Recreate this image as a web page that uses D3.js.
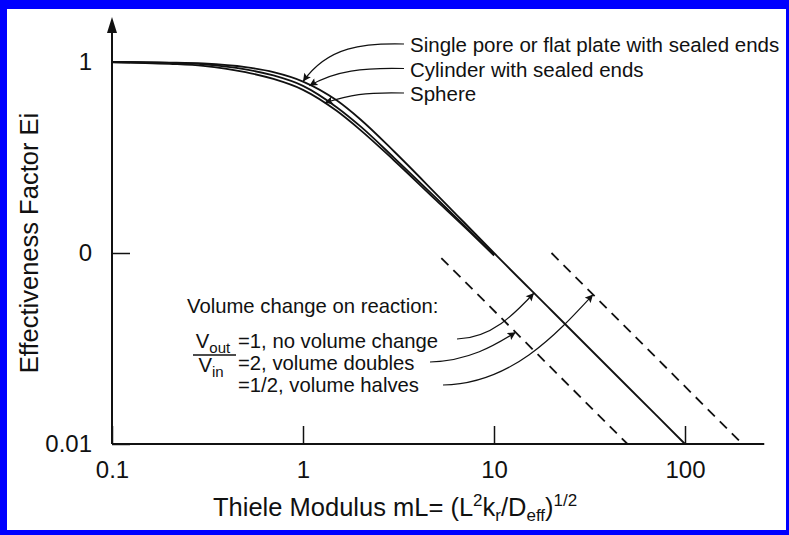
<!DOCTYPE html>
<html>
<head>
<meta charset="utf-8">
<script src="https://cdn.jsdelivr.net/npm/d3@7"></script>
<style>
  body { margin: 0; background: #fff; }
  text { font-family: "Liberation Sans", Arial, Helvetica, sans-serif; fill: #111; }
</style>
</head>
<body>
<div id="graphElement"></div>
<script>
// Thiele modulus values
var thiele = [0.1, 0.2, 0.3, 0.5, 0.7, 1, 1.5, 2, 3, 5, 7, 10, 20, 50, 100];
// effectiveness factor for each geometry
var plate = [1.0, 0.993, 0.982, 0.94, 0.885, 0.79, 0.63, 0.50, 0.34, 0.203, 0.144, 0.1, 0.05, 0.02, 0.01];
var cylinder = [1.0, 0.988, 0.972, 0.915, 0.85, 0.75, 0.58, 0.46, 0.315, 0.193, 0.139, 0.098];
var sphere = [1.0, 0.978, 0.955, 0.885, 0.815, 0.715, 0.555, 0.44, 0.305, 0.188, 0.137, 0.097];

// dashed asymptotes for volume change
var doublesML = [5.3, 50];
var doublesE = [0.094, 0.01];
var halvesML = [20, 200];
var halvesE = [0.1, 0.01];

var xTicks = [0.1, 1, 10, 100];
var xTickLabels = ["0.1", "1", "10", "100"];
var yTicks = [1, 0.1, 0.01];
var yTickLabels = ["1", "0", "0.01"];

var shapeLabels = ["Single pore or flat plate with sealed ends", "Cylinder with sealed ends", "Sphere"];
var volumeLabels = ["=1, no volume change", "=2, volume doubles", "=1/2, volume halves"];

var w = 789;
var h = 535;

var svg = d3.select("#graphElement")
            .append("svg")
            .attr("width", w)
            .attr("height", h);

// blue frame
svg.append("rect").attr("width", w).attr("height", h).attr("fill", "#0000ff");
svg.append("rect").attr("x", 7).attr("y", 9).attr("width", 779).attr("height", 521).attr("fill", "#fff");

var xScale = d3.scaleLog().domain([0.1, 100]).range([112, 685]);
var yScale = d3.scaleLog().domain([0.01, 1]).range([444, 62]);

var defs = svg.append("defs");
defs.append("marker")
    .attr("id", "head")
    .attr("viewBox", "0 0 10 10")
    .attr("refX", 10).attr("refY", 5)
    .attr("markerUnits", "userSpaceOnUse")
    .attr("markerWidth", 9).attr("markerHeight", 8)
    .attr("orient", "auto")
  .append("path")
    .attr("d", "M0,0L10,5L0,10L2,5Z")
    .attr("fill", "#111");

// axes lines
svg.append("line")
   .attr("x1", xScale(0.1)).attr("x2", xScale(0.1))
   .attr("y1", yScale(0.01)).attr("y2", 30)
   .attr("stroke", "#111").attr("stroke-width", 2);
svg.append("path")
   .attr("d", "M" + xScale(0.1) + ",17L" + (xScale(0.1) - 5) + ",33L" + (xScale(0.1) + 5) + ",33Z")
   .attr("fill", "#111");
svg.append("line")
   .attr("x1", xScale(0.1)).attr("x2", xScale(260))
   .attr("y1", yScale(0.01)).attr("y2", yScale(0.01))
   .attr("stroke", "#111").attr("stroke-width", 2);

var xAxis = d3.axisBottom(xScale)
              .tickValues(xTicks)
              .tickFormat(function(d, i) { return xTickLabels[i]; })
              .tickSizeInner(-18)
              .tickSizeOuter(0)
              .tickPadding(17);

var yAxis = d3.axisLeft(yScale)
              .tickValues(yTicks)
              .tickFormat(function(d, i) { return yTickLabels[i]; })
              .tickSizeInner(-18)
              .tickSizeOuter(0)
              .tickPadding(20);

var gx = svg.append("g")
   .attr("transform", "translate(0," + yScale(0.01) + ")")
   .call(xAxis);
var gy = svg.append("g")
   .attr("transform", "translate(" + xScale(0.1) + ",0)")
   .call(yAxis);

[gx, gy].forEach(function(g) {
  g.select(".domain").remove();
  g.selectAll("line").attr("stroke", "#111").attr("stroke-width", 1.5);
  g.selectAll("text")
   .attr("font-size", 24)
   .attr("font-family", "Liberation Sans, Arial, sans-serif")
   .attr("fill", "#111");
});

// curves
var line = d3.line()
             .x(function(d) { return xScale(d[0]); })
             .y(function(d) { return yScale(d[1]); })
             .curve(d3.curveMonotoneX);

[plate, cylinder, sphere].forEach(function(vals) {
  svg.append("path")
     .datum(vals.map(function(v, i) { return [thiele[i], v]; }))
     .attr("d", line)
     .attr("fill", "none")
     .attr("stroke", "#111")
     .attr("stroke-width", 1.8);
});

[[doublesML, doublesE], [halvesML, halvesE]].forEach(function(s) {
  svg.append("path")
     .datum(s[0].map(function(v, i) { return [v, s[1][i]]; }))
     .attr("d", d3.line().x(function(d) { return xScale(d[0]); }).y(function(d) { return yScale(d[1]); }))
     .attr("fill", "none")
     .attr("stroke", "#111")
     .attr("stroke-width", 1.8)
     .attr("stroke-dasharray", "10,7");
});

// geometry labels with arrows to the curves
var shapeCurves = [plate, cylinder, sphere];
var shapeTipIdx = [5, 5, 6];
var shapeTipML = [1, 1.08, 1.3];
shapeLabels.forEach(function(t, i) {
  var ty = 52 + i * 24.5;
  svg.append("text")
     .attr("x", 410).attr("y", ty)
     .attr("font-size", 20.5)
     .text(t);
  var tx = xScale(shapeTipML[i]);
  var tyy = yScale(d3.scaleLog().domain([thiele[shapeTipIdx[i] - (i == 2 ? 1 : 0)], thiele[shapeTipIdx[i]]]).range([shapeCurves[i][shapeTipIdx[i] - (i == 2 ? 1 : 0)], shapeCurves[i][shapeTipIdx[i]]])(shapeTipML[i]));
  var sx = 404, sy = ty - 8;
  svg.append("path")
     .attr("d", "M" + sx + "," + sy + "C" + (sx - 40) + "," + (sy - 1) + " " + (tx + 25) + "," + (sy + 2) + " " + tx + "," + tyy)
     .attr("fill", "none")
     .attr("stroke", "#111")
     .attr("stroke-width", 1.2)
     .attr("marker-end", "url(#head)");
});

// volume change annotation
svg.append("text").attr("x", 187).attr("y", 313).attr("font-size", 20.3).text("Volume change on reaction:");
var frac = svg.append("g");
frac.append("text").attr("x", 213).attr("y", 348).attr("font-size", 20.3).attr("text-anchor", "middle")
    .html('V<tspan font-size="15" dy="5">out</tspan>');
frac.append("line").attr("x1", 193).attr("x2", 236).attr("y1", 355).attr("y2", 355).attr("stroke", "#111").attr("stroke-width", 1.5);
frac.append("text").attr("x", 211).attr("y", 372).attr("font-size", 20.3).attr("text-anchor", "middle")
    .html('V<tspan font-size="15" dy="5">in</tspan>');

var volTips = [[16.2, 1 / 16.2], [13.0, 0.5 / 13.0], [33, 2 / 33]];
var volStarts = [[457, 339], [430, 362], [443, 385]];
volumeLabels.forEach(function(t, i) {
  svg.append("text")
     .attr("x", 238).attr("y", 348 + i * 22)
     .attr("font-size", 20.3)
     .text(t);
  var sx = volStarts[i][0], sy = volStarts[i][1];
  var tx = xScale(volTips[i][0]), ty = yScale(volTips[i][1]);
  svg.append("path")
     .attr("d", "M" + sx + "," + sy + "C" + (sx + (tx - sx) * 0.45) + "," + (sy - 1) + " " + (tx - (tx - sx) * 0.25) + "," + (ty + (sy - ty) * 0.45) + " " + tx + "," + ty)
     .attr("fill", "none")
     .attr("stroke", "#111")
     .attr("stroke-width", 1.2)
     .attr("marker-end", "url(#head)");
});

// axis titles
svg.append("text")
   .attr("x", 213).attr("y", 516)
   .attr("font-size", 25.5)
   .html('Thiele Modulus mL= (L<tspan font-size="17" dy="-10">2</tspan><tspan dy="10">k</tspan><tspan font-size="17" dy="5">r</tspan><tspan dy="-5">/D</tspan><tspan font-size="17" dy="5">eff</tspan><tspan dy="-5">)</tspan><tspan font-size="17" dy="-10">1/2</tspan>');

svg.append("text")
   .attr("transform", "translate(38,243) rotate(-90)")
   .attr("text-anchor", "middle")
   .attr("font-size", 25.5)
   .text("Effectiveness Factor Ei");
</script>
</body>
</html>
